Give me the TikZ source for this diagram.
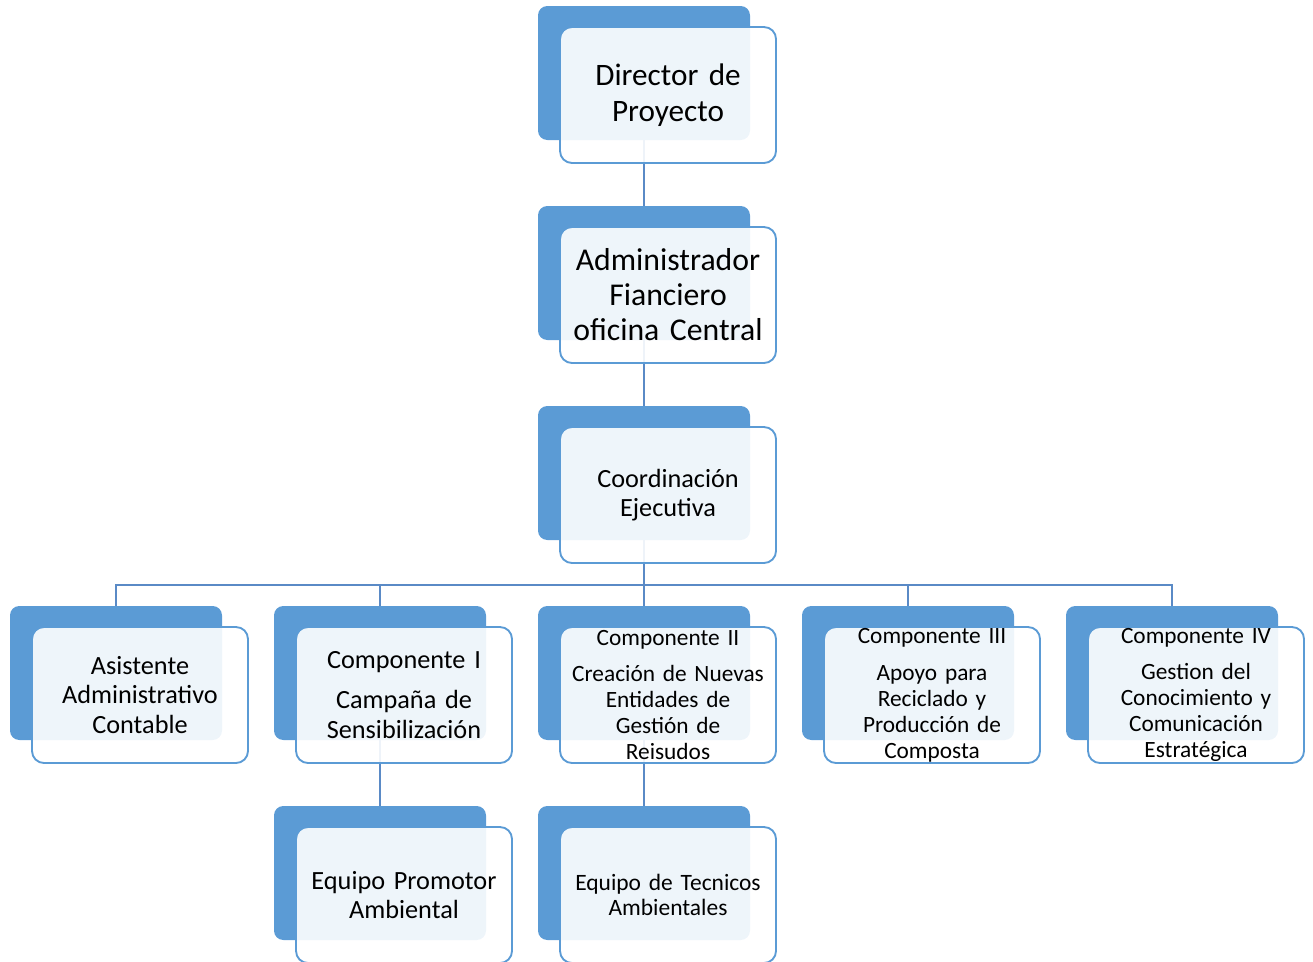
\documentclass[tikz,border=0pt]{standalone}
\usepackage{fontspec}
\setmainfont{Carlito}
\usepackage{tikz}
\definecolor{orgblue}{HTML}{5B9BD5}
\definecolor{linkblue}{HTML}{5A8AC6}

\tikzset{
  back/.style={fill=orgblue, rounded corners=7pt, minimum width=159pt, minimum height=100.5pt, inner sep=0pt},
  front/.style={draw=orgblue, line width=1.4pt, fill=white, fill opacity=0.9, text opacity=1,
    rounded corners=9pt, minimum width=162pt, minimum height=102pt, text width=156pt,
    align=center, inner sep=0pt, xshift=18pt, yshift=-16.5pt},
  link/.style={draw=linkblue, line width=1.6pt},
  huge/.style={font=\fontsize{23.4}{27}\selectfont},
  large/.style={font=\fontsize{23.8}{26.2}\selectfont},
  mid/.style={font=\fontsize{19.7}{22}\selectfont},
  small/.style={font=\fontsize{17.5}{19.5}\selectfont},
  tiny/.style={font=\fontsize{17.6}{18.8}\selectfont}
}

\begin{document}
\begin{tikzpicture}[x=0.75pt, y=-0.75pt]
\useasboundingbox (0,0) rectangle (1313,961);

%Back boxes
\node[back] (dirB) at (644,73) {};
\node[back] (admB) at (644,273) {};
\node[back] (coordB) at (644,473) {};
\node[back] (asisB) at (116,673) {};
\node[back] (comp1B) at (380,673) {};
\node[back] (comp2B) at (644,673) {};
\node[back] (comp3B) at (908,673) {};
\node[back] (comp4B) at (1172,673) {};
\node[back] (promB) at (380,873) {};
\node[back] (tecB) at (644,873) {};

%Links
\coordinate (split) at (644,585);
\draw[link] (dirB.south) -- (admB.north);
\draw[link] (admB.south) -- (coordB.north);
\draw[link] (coordB.south) -- (split);
\draw[link] (asisB.north) -- (split -| asisB.north) -- (split -| comp4B.north) -- (comp4B.north);
\foreach \n in {comp1B,comp2B,comp3B}
  \draw[link] (split -| \n.north) -- (\n.north);
\draw[link] (comp1B.south) -- (promB.north);
\draw[link] (comp2B.south) -- (tecB.north);

%Front boxes
\node[front, huge] (dir) at (dirB) {Director de\\Proyecto};
\node[front, large] (adm) at (admB) {Administrador\\Fianciero\\oficina Central};
\node[front, mid] (coord) at (coordB) {Coordinación\\Ejecutiva};
\node[front, mid] (asis) at (asisB) {Asistente\\Administrativo\\Contable};
\node[front, mid] (comp1) at (comp1B) {Componente I\\[8pt]Campaña de\\Sensibilización};
\node[front, small] (comp2) at (comp2B) {Componente II\\[8pt]Creación de Nuevas\\Entidades de\\Gestión de\\Reisudos};
\node[front, small] (comp3) at (comp3B) {Componente III\\[8pt]Apoyo para\\Reciclado y\\Producción de\\Composta};
\node[front, small] (comp4) at (comp4B) {Componente IV\\[8pt]Gestion del\\Conocimiento y\\Comunicación\\Estratégica};
\node[front, mid] (prom) at (promB) {Equipo Promotor\\Ambiental};
\node[front, tiny] (tec) at (tecB) {Equipo de Tecnicos\\Ambientales};

\end{tikzpicture}
\end{document}
